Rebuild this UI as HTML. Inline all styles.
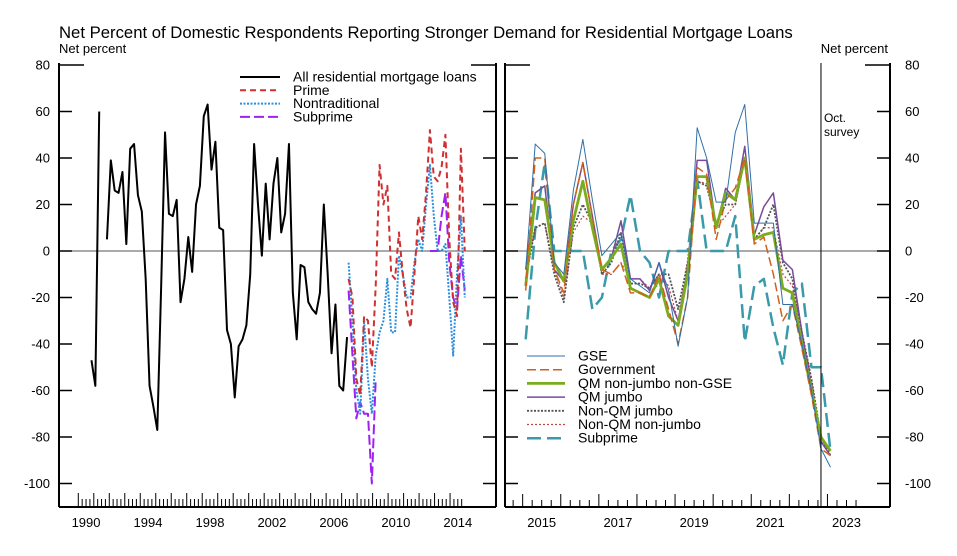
<!DOCTYPE html>
<html><head><meta charset="utf-8">
<style>
html,body{margin:0;padding:0;background:#fff;}
svg{display:block;font-family:"Liberation Sans",Arial,sans-serif;}
</style></head>
<body>
<svg id="chart" width="957" height="556" viewBox="0 0 957 556">
<text x="59" y="38" font-size="16.7" fill="#000">Net Percent of Domestic Respondents Reporting Stronger Demand for Residential Mortgage Loans</text>
<text x="59" y="53" font-size="13">Net percent</text>
<text x="888" y="53" font-size="13" text-anchor="end">Net percent</text>
<g id="left"></g>
<g id="right"></g>
</svg>
<script>
// ---- data ----
const yTicks = [80,60,40,20,0,-20,-40,-60,-80,-100];
const leftYearLabels = [1990,1994,1998,2002,2006,2010,2014];
const rightYearLabels = [2015,2017,2019,2021,2023];
const allStart = 1990.85;
const allLoans = [-47,-58,60,null,5,39,26,25,34,3,44,46,24,17,-12,-58,-67,-77,-15,51,16,15,22,-22,-12,6,-9,20,28,58,63,35,47,10,9,-34,-40,-63,-41,-38,-32,-10,46,20,-2,29,5,29,40,8,16,46,-18,-38,-6,-7,-22,-25,-27,-18,20,-10,-44,-23,-58,-60,-37];
const segStart = 2007.45;
const prime = [-12,-20,-55,-62,-28,-30,-50,-15,37,20,28,-10,-12,8,-10,-25,-33,-10,15,5,25,52,32,30,36,50,5,-22,-28,44,0];
const nontrad = [-5,-30,-60,-70,-30,-55,-70,-45,-35,-30,-12,-35,-35,-2,-10,-20,-20,-5,5,0,20,37,15,0,0,3,-20,-45,-10,15,-20];
const subLeft = [-17,-45,-72,-65,-70,-70,-100,-55,null,null,null,null,null,null,null,null,null,null,null,null,null,0,0,0,15,25,-5,-20,-25,-2,-17];
const rStart = 2015.08;
const gse = [-8,46,42,-5,-10,26,48,22,-2,3,8,-12,-15,-18,-5,-17,-41,-20,53,40,21,21,51,63,12,12,12,-23,-23,-40,-60,-85,-93];
const govt = [-17,40,40,-8,-18,20,38,15,-8,-10,-5,-18,-18,-20,-10,-25,-40,-20,36,33,5,22,27,40,3,6,-10,-30,-23,-42,-62,-85,-88];
const qmNonJumbo = [-15,23,22,-5,-13,13,30,10,-8,-3,3,-16,-18,-20,-12,-28,-32,-10,32,32,10,25,22,40,5,7,8,-16,-18,-40,-60,-80,-86];
const qmJumbo = [-8,25,28,-8,-13,20,38,15,-8,-3,13,-12,-12,-17,-5,-20,-30,-8,39,39,10,27,22,45,7,19,25,-4,-8,-35,-58,-82,-88];
const nonQmJumbo = [-12,10,12,-10,-22,10,20,12,-10,-5,8,-14,-14,-16,-10,-10,-25,-5,30,28,12,20,20,40,5,10,20,-5,-12,-35,-55,-80,-88];
const nonQmNonJumbo = [-12,10,12,-8,-20,8,15,12,-10,-10,-5,-12,-12,-16,-10,-15,-30,-5,30,29,10,15,20,39,5,10,10,-10,-15,-35,-55,-82,-86];
const subRight = [-38,9,38,0,0,0,0,-25,-20,0,5,24,0,-5,-20,0,0,0,31,0,0,0,15,-39,-15,-12,-33,-49,-18,-14,-50,-50,-86];
const surveyLine = 2022.83;

// ---- scales ----
const NS='http://www.w3.org/2000/svg';
const Y = v => 251 - v*2.325;
const XL = t => 78.3 + (t-1990)*15.49;
const XR = t => 541.7 + (t-2015.5)*38.1;
function mk(tag, attrs, parent){const e=document.createElementNS(NS,tag);for(const k in attrs)e.setAttribute(k,attrs[k]);parent.appendChild(e);return e;}
const L=document.getElementById('left'), R=document.getElementById('right');

function frame(g,x0,x1,labelX,anchor){
  mk('line',{x1:x0,y1:63,x2:x0,y2:507,stroke:'#000','stroke-width':2},g);
  mk('line',{x1:x1,y1:63,x2:x1,y2:507,stroke:'#000','stroke-width':2},g);
  mk('line',{x1:x0,y1:507,x2:x1,y2:507,stroke:'#000','stroke-width':2},g);
  mk('line',{x1:x0,y1:Y(0),x2:x1,y2:Y(0),stroke:'#555','stroke-width':1},g);
  yTicks.forEach(v=>{
    const len = v===80?25:13;
    mk('line',{x1:x0,y1:Y(v),x2:x0+len,y2:Y(v),stroke:'#000','stroke-width':1.5},g);
    mk('line',{x1:x1,y1:Y(v),x2:x1-len,y2:Y(v),stroke:'#000','stroke-width':1.5},g);
    if(labelX!==null){
      const t=mk('text',{x:labelX,y:Y(v)+4.5,'font-size':13,'text-anchor':anchor},g);
      
      
      t.textContent=v;
    }
  });
}
frame(L,59,496,50,'end');
frame(R,505,890,905,'start');

// x ticks
for(let y=1990;y<=2014.76;y+=0.25){
  const major=Math.abs(y-Math.round(y))<1e-6;
  mk('line',{x1:XL(y),y1:507,x2:XL(y),y2:major?493:499,stroke:'#000','stroke-width':1},L);
}
leftYearLabels.forEach(y=>{
  const t=mk('text',{x:XL(y+0.5),y:527,'font-size':13,'text-anchor':'middle'},L);
  
  
  t.textContent=y;
});
for(let y=2014.75;y<=2023.76;y+=0.25){
  const major=Math.abs(y-Math.round(y))<1e-6;
  mk('line',{x1:XR(y),y1:507,x2:XR(y),y2:major?494:500,stroke:'#000','stroke-width':1},R);
}
rightYearLabels.forEach(y=>{
  const t=mk('text',{x:XR(y+0.5),y:527,'font-size':13,'text-anchor':'middle'},R);
  
  
  t.textContent=y;
});

function series(g,data,start,X,style,name){
  let d='',pen=false;
  data.forEach((v,i)=>{
    if(v===null){pen=false;return;}
    d+=(pen?'L':'M')+X(start+i*0.25).toFixed(2)+','+Y(v).toFixed(2)+' ';pen=true;
  });
  const p=mk('path',Object.assign({d:d,fill:'none','stroke-linejoin':'round'},style),g);
  
  
}
const stAll={stroke:'#000','stroke-width':2};
const stPrime={stroke:'#d03030','stroke-width':2,'stroke-dasharray':'6,4'};
const stNon={stroke:'#2a8fe0','stroke-width':2,'stroke-dasharray':'2,1.5'};
const stSub={stroke:'#a020f0','stroke-width':2,'stroke-dasharray':'10,4'};
series(L,allLoans,allStart,XL,stAll,'all-loans-line');
series(L,subLeft,segStart,XL,stSub,'subprime-left-line');
series(L,nontrad,segStart,XL,stNon,'nontraditional-line');
series(L,prime,segStart,XL,stPrime,'prime-line');

const stGse={stroke:'#2f6fa8','stroke-width':1};
const stGov={stroke:'#d0601a','stroke-width':1.5,'stroke-dasharray':'9,4'};
const stQmN={stroke:'#7aac1e','stroke-width':2.8};
const stQmJ={stroke:'#7a4a9a','stroke-width':1.5};
const stNqJ={stroke:'#555','stroke-width':1.8,'stroke-dasharray':'2,1.5'};
const stNqN={stroke:'#c04848','stroke-width':1.2,'stroke-dasharray':'2,2'};
const stSubR={stroke:'#3a9aaa','stroke-width':2.5,'stroke-dasharray':'14,6'};
series(R,subRight,rStart,XR,stSubR,'subprime-right-line');
series(R,nonQmNonJumbo,rStart,XR,stNqN,'non-qm-non-jumbo-line');
series(R,nonQmJumbo,rStart,XR,stNqJ,'non-qm-jumbo-line');
series(R,qmJumbo,rStart,XR,stQmJ,'qm-jumbo-line');
series(R,qmNonJumbo,rStart,XR,stQmN,'qm-non-jumbo-line');
series(R,govt,rStart,XR,stGov,'government-line');
series(R,gse,rStart,XR,stGse,'gse-line');

mk('line',{x1:XR(surveyLine),y1:63,x2:XR(surveyLine),y2:507,stroke:'#000','stroke-width':1},R);
const o1=mk('text',{x:XR(surveyLine)+3,y:122,'font-size':12},R);


o1.textContent='Oct.';
const o2=mk('text',{x:XR(surveyLine)+3,y:136,'font-size':12},R);


o2.textContent='survey';

// legends
const legL=[['All residential mortgage loans',stAll],['Prime',stPrime],['Nontraditional',stNon],['Subprime',stSub]];
legL.forEach((e,i)=>{
  const y=77+i*13.3;
  const g=mk('g',{},L);
  
  
  mk('line',Object.assign({x1:240,y1:y,x2:280,y2:y},e[1]),g);
  const t=mk('text',{x:293,y:y+4.5,'font-size':14},g);
  t.textContent=e[0];
});
const legR=[['GSE',stGse],['Government',stGov],['QM non-jumbo non-GSE',stQmN],['QM jumbo',stQmJ],['Non-QM jumbo',stNqJ],['Non-QM non-jumbo',stNqN],['Subprime',stSubR]];
legR.forEach((e,i)=>{
  const y=356+i*13.7;
  const g=mk('g',{},R);
  
  
  mk('line',Object.assign({x1:527,y1:y,x2:565,y2:y},e[1]),g);
  const t=mk('text',{x:578,y:y+4.5,'font-size':14},g);
  t.textContent=e[0];
});
</script>
</body></html>
